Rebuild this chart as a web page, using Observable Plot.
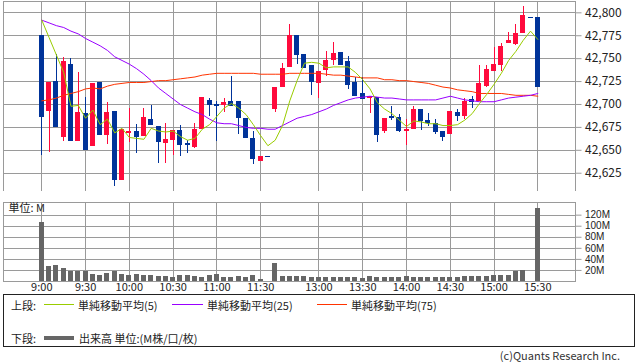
<!DOCTYPE html>
<html>
<head>
<meta charset="utf-8">
<script src="https://cdn.jsdelivr.net/npm/d3@7"></script>
<script src="https://cdn.jsdelivr.net/npm/@observablehq/plot@0.6"></script>
<style>
  body { margin: 0; background: #fff; }
  #wrap { position: relative; width: 638px; height: 362px; font-family: "Noto Sans CJK JP", "Noto Sans", sans-serif; color: #222; overflow: hidden; }
  #top, #vol { position: absolute; left: 0; }
  #top { top: 0; }
  #vol { top: 195px; }
  #legend { position: absolute; left: 3px; top: 294px; width: 632px; height: 53px; border: 1px solid #222; box-sizing: border-box; font-size: 11px; }
  #legend .t { position: absolute; line-height: 12px; white-space: nowrap; }
  #legend .ln { position: absolute; height: 1px; }
  #copy { position: absolute; right: 18px; top: 349px; font-size: 11px; line-height: 12px; color: #333; white-space: nowrap; }
</style>
</head>
<body>
<div id="wrap">
  <div id="top"></div>
  <div id="vol"></div>
  <div id="legend">
    <div class="t" style="left:7px;top:4px;">上段:</div>
    <div class="ln" style="left:40px;top:9px;width:30px;background:#99cc00;"></div>
    <div class="t" style="left:74px;top:4px;">単純移動平均(5)</div>
    <div class="ln" style="left:168px;top:9px;width:31px;background:#9900ff;"></div>
    <div class="t" style="left:203px;top:4px;">単純移動平均(25)</div>
    <div class="ln" style="left:313px;top:9px;width:30px;background:#ff3300;"></div>
    <div class="t" style="left:347px;top:4px;">単純移動平均(75)</div>
    <div class="t" style="left:7px;top:37px;">下段:</div>
    <div class="ln" style="left:40px;top:41px;width:30px;height:4px;background:#666;"></div>
    <div class="t" style="left:75px;top:37px;">出来高 単位:(M株/口/枚)</div>
  </div>
  <div id="copy">(c)Quants Research Inc.</div>
</div>
<script>
// ---- data (5-minute candles, slot index 0 = 9:00 ... 68 = 15:30) ----
const open = [42775,42692,42725,42664,42744,42660,42690,42654,42724,42666,
  42692,42617,42668,42671,42665,42684,42676,42657,42661,42672,
  42657,42653,42673,42704,42700,42699,42703,42703,42685,42663,
  42638,42643,42694,42719,42740,42775,42755,42743,42723,42737,
  42748,42757,42747,42724,42712,42706,42708,42670,42687,42686,
  42670,42673,42695,42683,42679,42671,42667,42691,42687,42705,
  42703,42720,42736,42743,42766,42765,42777,42795,42795];
const high = [42775,42724,42754,42751,42750,42735,42708,42723,42724,42702,
  42692,42673,42696,42678,42696,42699,42676,42679,42672,42677,
  42661,42679,42708,42706,42703,42706,42730,42703,42685,42671,
  42643,42643,42718,42745,42787,42775,42755,42743,42736,42758,
  42768,42757,42752,42729,42729,42709,42708,42685,42698,42689,
  42684,42698,42695,42690,42684,42671,42692,42694,42707,42709,
  42742,42743,42762,42766,42778,42787,42807,42795,42795];
const low = [42644,42648,42675,42660,42660,42660,42650,42654,42666,42656,
  42611,42617,42658,42646,42665,42677,42636,42636,42644,42643,
  42646,42652,42673,42687,42660,42691,42698,42667,42663,42634,
  42638,42643,42691,42719,42740,42744,42739,42710,42707,42730,
  42743,42743,42716,42709,42705,42690,42658,42668,42683,42669,
  42655,42673,42672,42676,42667,42660,42667,42681,42684,42696,
  42703,42719,42736,42736,42766,42764,42777,42795,42718];
const close = [42686,42724,42675,42747,42660,42691,42650,42723,42666,42691,
  42617,42673,42671,42664,42686,42677,42659,42662,42672,42655,
  42655,42673,42708,42699,42698,42702,42698,42685,42663,42640,
  42643,42643,42718,42739,42775,42753,42739,42724,42736,42748,
  42756,42743,42721,42709,42705,42709,42666,42685,42686,42670,
  42673,42694,42681,42679,42669,42664,42692,42687,42703,42702,
  42723,42738,42744,42763,42770,42777,42797,42795,42718];
const volume = [107.5,27.6,29.4,24,18.6,17.4,17.4,13.2,11.4,15,
  17.4,13.2,11.4,13.2,11.4,11.4,9.6,9.6,7.8,11.4,
  11.4,9.6,7.8,11.4,13.2,7.8,7.8,9.6,7.8,11.4,
  4.2,0,33,9.6,9.6,9.6,9.6,7.8,7.8,7.8,
  7.8,7.8,6.6,7.8,6,8.4,7.8,6.6,6.6,7.2,
  8.4,6.6,6.6,6.6,6.6,6.6,6.6,7.8,8.4,9,
  9,9,11.4,11.4,11.4,17.4,20.4,0.6,132];
const ma5 = [42792,42773,42754,42735,42698,42699,42685,42694,42678,42684,
  42669,42674,42664,42663,42662,42674,42671,42670,42671,42665,
  42661,42663,42673,42678,42687,42696,42701,42696,42689,42678,
  42666,42655,42661,42677,42704,42726,42745,42746,42745,42740,
  42741,42741,42741,42735,42727,42717,42702,42695,42690,42683,
  42676,42682,42681,42679,42679,42677,42677,42678,42683,42690,
  42701,42711,42722,42734,42748,42758,42770,42780,42771];
const ma25 = [42792,42789,42786,42784,42780,42777,42772,42768,42764,42759,
  42752,42748,42744,42739,42733,42726,42718,42712,42706,42700,
  42696,42692,42689,42684,42680,42679,42679,42677,42675,42674,
  42674,42673,42673,42677,42681,42685,42687,42689,42692,42695,
  42699,42702,42705,42707,42708,42709,42708,42707,42707,42706,
  42705,42705,42705,42705,42705,42707,42709,42707,42705,42704,
  42703,42703,42703,42705,42707,42708,42709,42710,42712];
const ma75 = [42704,42705,42707,42710,42712,42714,42717,42718,42717,42720,
  42722,42723,42724,42724,42724,42725,42726,42726,42727,42728,
  42729,42730,42732,42733,42734,42734,42734,42734,42734,42734,
  42733,42733,42733,42733,42734,42734,42734,42734,42734,42733,
  42732,42732,42731,42730,42729,42729,42729,42727,42727,42726,
  42726,42725,42724,42723,42721,42719,42718,42716,42715,42714,
  42712,42712,42712,42712,42711,42710,42710,42710,42709];
const timeTickSlots = [0, 6, 12, 18, 24, 30, 38, 44, 50, 56, 62, 68];
const timeTickLabels = ["9:00","9:30","10:00","10:30","11:00","11:30","13:00","13:30","14:00","14:30","15:00","15:30"];
const priceTicks = [42625, 42650, 42675, 42700, 42725, 42750, 42775, 42800];
const volumeTicks = [20, 40, 60, 80, 100, 120];

// ---- build ----
const RED = "#ff0a3c", BLUE = "#003399", GRID = "#9a9a9a";
const candles = open.map((o, i) => ({i, o, h: high[i], l: low[i], c: close[i], v: volume[i]}));
const ups = candles.filter(d => d.c > d.o);
const downs = candles.filter(d => d.c <= d.o);
const half = 0.343;
const xDomain = [-5.32, 73.1];
const fontFamily = "'Noto Sans CJK JP', 'Noto Sans', sans-serif";

const topPlot = Plot.plot({
  width: 638, height: 191,
  marginLeft: 2.5, marginRight: 63.5, marginTop: 0.5, marginBottom: 0.5,
  x: {domain: xDomain, axis: null},
  y: {domain: [42605.6, 42812.9]},
  style: {fontFamily, fontSize: "12px", color: "#222", background: "#fff"},
  marks: [
    Plot.ruleY(priceTicks, {stroke: GRID, shapeRendering: "crispEdges"}),
    Plot.ruleX(timeTickSlots, {stroke: GRID, shapeRendering: "crispEdges"}),
    Plot.axisY({anchor: "right", ticks: priceTicks, tickSize: 6, tickPadding: 4, tickFormat: d3.format(","), stroke: GRID, fill: "#222", label: null}),
    Plot.ruleX(ups, {x: "i", y1: "l", y2: "h", stroke: RED, shapeRendering: "crispEdges"}),
    Plot.ruleX(downs, {x: "i", y1: "l", y2: "h", stroke: BLUE, shapeRendering: "crispEdges"}),
    Plot.rect(ups, {x1: d => d.i - half, x2: d => d.i + half, y1: "o", y2: "c", fill: RED, shapeRendering: "crispEdges"}),
    Plot.rect(downs, {x1: d => d.i - half, x2: d => d.i + half, y1: "o", y2: "c", fill: BLUE, shapeRendering: "crispEdges"}),
    Plot.ruleY(downs.filter(d => Math.abs(d.o - d.c) < 2), {y: "c", x1: d => d.i - half, x2: d => d.i + half, stroke: BLUE, strokeWidth: 1.5, shapeRendering: "crispEdges"}),
    Plot.ruleY(ups.filter(d => Math.abs(d.o - d.c) < 2), {y: "c", x1: d => d.i - half, x2: d => d.i + half, stroke: RED, strokeWidth: 1.5, shapeRendering: "crispEdges"}),
    Plot.line(candles, {x: "i", y: d => ma75[d.i], stroke: "#ff3300", strokeWidth: 1}),
    Plot.line(candles, {x: "i", y: d => ma25[d.i], stroke: "#9900ff", strokeWidth: 1}),
    Plot.line(candles, {x: "i", y: d => ma5[d.i], stroke: "#99cc00", strokeWidth: 1}),
    Plot.frame({stroke: GRID, shapeRendering: "crispEdges"})
  ]
});
document.getElementById("top").append(topPlot);

const volPlot = Plot.plot({
  width: 638, height: 100,
  marginLeft: 2.5, marginRight: 63.5, marginTop: 6.5, marginBottom: 14,
  x: {domain: xDomain},
  y: {domain: [0, 143.8]},
  style: {fontFamily, fontSize: "11px", color: "#222", background: "transparent"},
  marks: [
    Plot.ruleY(volumeTicks, {stroke: GRID, shapeRendering: "crispEdges"}),
    Plot.ruleX(timeTickSlots, {stroke: GRID, shapeRendering: "crispEdges"}),
    Plot.rect(candles, {x1: d => d.i - half, x2: d => d.i + half, y1: 0, y2: "v", fill: "#666", shapeRendering: "crispEdges"}),
    Plot.frame({stroke: GRID, shapeRendering: "crispEdges"}),
    Plot.axisY({anchor: "right", ticks: volumeTicks, tickSize: 6, tickPadding: 4, tickFormat: d => d + "M", stroke: GRID, fill: "#222", fontSize: 10, fontFamily: "'Liberation Sans', sans-serif", label: null}),
    Plot.axisX({anchor: "bottom", ticks: timeTickSlots, tickSize: 0, tickPadding: 2, tickFormat: d => timeTickLabels[timeTickSlots.indexOf(d)], fill: "#222", label: null}),
    Plot.text(["単位: M"], {frameAnchor: "top-left", text: d => d, dx: 5.5, dy: 2.5, fill: "#222", fontSize: 11})
  ]
});
document.getElementById("vol").append(volPlot);
</script>
</body>
</html>
